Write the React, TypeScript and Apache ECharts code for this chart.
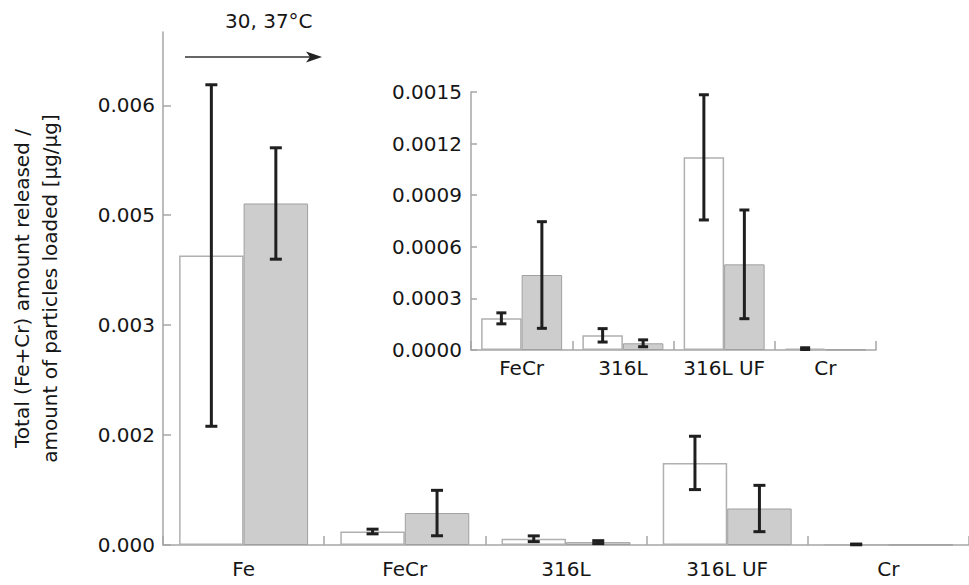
import React, { useEffect, useRef } from "react";
import * as echarts from "echarts";

// ---- data ----
const categories = ["Fe", "FeCr", "316L", "316L UF", "Cr"];
const insetCategories = ["FeCr", "316L", "316L UF", "Cr"];
// white bars (30 °C)
const whiteValues = [0.00395, 0.000184, 0.0000853, 0.00112, 0.000008];
const whiteErrors = [0.00233, 0.000032, 0.000039, 0.000364, 0.000005];
// grey bars (37 °C)
const greyValues = [0.00466, 0.000436, 0.000039, 0.000498, 0.000002];
const greyErrors = [0.00076, 0.00031, 0.00002, 0.000316, 0];

const mainTickValues = [0, 0.0015, 0.003, 0.0045, 0.006];
const mainTickLabels = ["0.000", "0.002", "0.003", "0.005", "0.006"];
const insetTickValues = [0, 0.0003, 0.0006, 0.0009, 0.0012, 0.0015];
const insetTickLabels = ["0.0000", "0.0003", "0.0006", "0.0009", "0.0012", "0.0015"];

const yAxisTitle = "Total (Fe+Cr) amount released /\namount of particles loaded [µg/µg]";
const annotation = "30, 37°C";

const FONT = "DejaVu Sans";
const FSIZE = 20;
const TEXT = "#161616";
const AXIS = "#a6a6a6";

function errorSeries(
  name: string,
  values: number[],
  errors: number[],
  sign: number,
  idx: number,
  cap: number
) {
  return {
    type: "custom",
    name,
    xAxisIndex: idx,
    yAxisIndex: idx,
    z: 5,
    silent: true,
    encode: { x: 0, y: 1 },
    data: values.map((v, i) => [i, v, errors[i]]),
    renderItem: (params: any, api: any) => {
      const i = api.value(0);
      const v = api.value(1);
      const e = api.value(2);
      if (!(e > 0)) return { type: "group", children: [] };
      const band = api.size([1, 0])[0];
      const off = band * 0.2 * sign;
      const top = api.coord([i, v + e]);
      const bot = api.coord([i, Math.max(0, v - e)]);
      const x = top[0] + off;
      const st = { stroke: "#1f1f1f", lineWidth: 3 };
      return {
        type: "group",
        children: [
          { type: "line", shape: { x1: x, y1: top[1], x2: x, y2: bot[1] }, style: st },
          { type: "line", shape: { x1: x - cap / 2, y1: top[1], x2: x + cap / 2, y2: top[1] }, style: st },
          { type: "line", shape: { x1: x - cap / 2, y1: bot[1], x2: x + cap / 2, y2: bot[1] }, style: st },
        ],
      };
    },
  };
}

export default function App() {
  const ref = useRef<HTMLDivElement>(null);

  useEffect(() => {
    if (!ref.current) return;
    const chart = echarts.init(ref.current, undefined, { renderer: "svg" });

    const labelStyle = { color: TEXT, fontFamily: FONT, fontSize: FSIZE };

    const option: any = {
      animation: false,
      backgroundColor: "#ffffff",
      textStyle: { fontFamily: FONT, color: TEXT },
      grid: [
        { left: 163, top: 32, width: 815, height: 513, containLabel: false },
        { left: 471, top: 92, width: 405, height: 258, containLabel: false },
      ],
      xAxis: [
        {
          type: "category",
          gridIndex: 0,
          data: categories,
          axisLine: { show: true, lineStyle: { color: AXIS, width: 1.5 } },
          axisTick: { show: true, inside: true, length: 9, lineStyle: { color: AXIS, width: 1.5 } },
          axisLabel: { ...labelStyle, margin: 14, interval: 0 },
          splitLine: { show: false },
        },
        {
          type: "category",
          gridIndex: 1,
          data: insetCategories,
          axisLine: { show: true, lineStyle: { color: AXIS, width: 1.5 } },
          axisTick: { show: true, inside: true, length: 9, lineStyle: { color: AXIS, width: 1.5 } },
          axisLabel: { ...labelStyle, margin: 8, interval: 0 },
          splitLine: { show: false },
        },
      ],
      yAxis: [
        {
          type: "value",
          gridIndex: 0,
          min: 0,
          max: 0.007,
          name: yAxisTitle,
          nameLocation: "middle",
          nameRotate: 90,
          nameGap: 99,
          nameTextStyle: { color: TEXT, fontFamily: FONT, fontSize: FSIZE, lineHeight: 28 },
          axisLine: { show: true, lineStyle: { color: AXIS, width: 1.5 } },
          axisTick: {
            show: true,
            inside: true,
            length: 8,
            customValues: mainTickValues,
            lineStyle: { color: AXIS, width: 1.5 },
          },
          axisLabel: {
            ...labelStyle,
            margin: 8,
            customValues: mainTickValues,
            formatter: (v: number) => {
              const k = mainTickValues.findIndex((t) => Math.abs(t - v) < 1e-9);
              return k >= 0 ? mainTickLabels[k] : "";
            },
          },
          splitLine: { show: false },
        },
        {
          type: "value",
          gridIndex: 1,
          min: 0,
          max: 0.0015,
          axisLine: { show: true, lineStyle: { color: AXIS, width: 1.5 } },
          axisTick: {
            show: true,
            inside: true,
            length: 6,
            customValues: insetTickValues,
            lineStyle: { color: AXIS, width: 1.5 },
          },
          axisLabel: {
            ...labelStyle,
            margin: 9,
            customValues: insetTickValues,
            formatter: (v: number) => {
              const k = insetTickValues.findIndex((t) => Math.abs(t - v) < 1e-9);
              return k >= 0 ? insetTickLabels[k] : "";
            },
          },
          splitLine: { show: false },
        },
      ],
      series: [
        {
          type: "bar",
          name: "30 °C",
          xAxisIndex: 0,
          yAxisIndex: 0,
          data: whiteValues,
          barWidth: "40%",
          barGap: "0%",
          itemStyle: { color: "#ffffff", borderColor: "#b0b0b0", borderWidth: 1.5 },
        },
        {
          type: "bar",
          name: "37 °C",
          xAxisIndex: 0,
          yAxisIndex: 0,
          data: greyValues,
          barWidth: "40%",
          barGap: "0%",
          itemStyle: { color: "#cdcdcd", borderColor: "#a0a0a0", borderWidth: 1 },
        },
        {
          type: "bar",
          name: "30 °C inset",
          xAxisIndex: 1,
          yAxisIndex: 1,
          data: whiteValues.slice(1),
          barWidth: "40%",
          barGap: "0%",
          itemStyle: { color: "#ffffff", borderColor: "#b0b0b0", borderWidth: 1.5 },
        },
        {
          type: "bar",
          name: "37 °C inset",
          xAxisIndex: 1,
          yAxisIndex: 1,
          data: greyValues.slice(1),
          barWidth: "40%",
          barGap: "0%",
          itemStyle: { color: "#cdcdcd", borderColor: "#a0a0a0", borderWidth: 1 },
        },
        errorSeries("err30", whiteValues, whiteErrors, -1, 0, 12),
        errorSeries("err37", greyValues, greyErrors, 1, 0, 12),
        errorSeries("err30i", whiteValues.slice(1), whiteErrors.slice(1), -1, 1, 10),
        errorSeries("err37i", greyValues.slice(1), greyErrors.slice(1), 1, 1, 10),
      ],
      graphic: [
        {
          type: "text",
          left: 225,
          top: 11,
          style: { text: annotation, fill: TEXT, font: `${FSIZE}px "${FONT}"` },
        },
        {
          type: "line",
          shape: { x1: 185, y1: 57, x2: 312, y2: 57 },
          style: { stroke: "#333333", lineWidth: 1.5 },
        },
        {
          type: "polygon",
          shape: { points: [[322, 57], [306, 51.5], [310, 57], [306, 62.5]] },
          style: { fill: "#222222" },
        },
      ],
    };

    chart.setOption(option);
    return () => chart.dispose();
  }, []);

  return (
    <div
      ref={ref}
      style={{ position: "absolute", left: 0, top: 0, width: 969, height: 585 }}
    />
  );
}
